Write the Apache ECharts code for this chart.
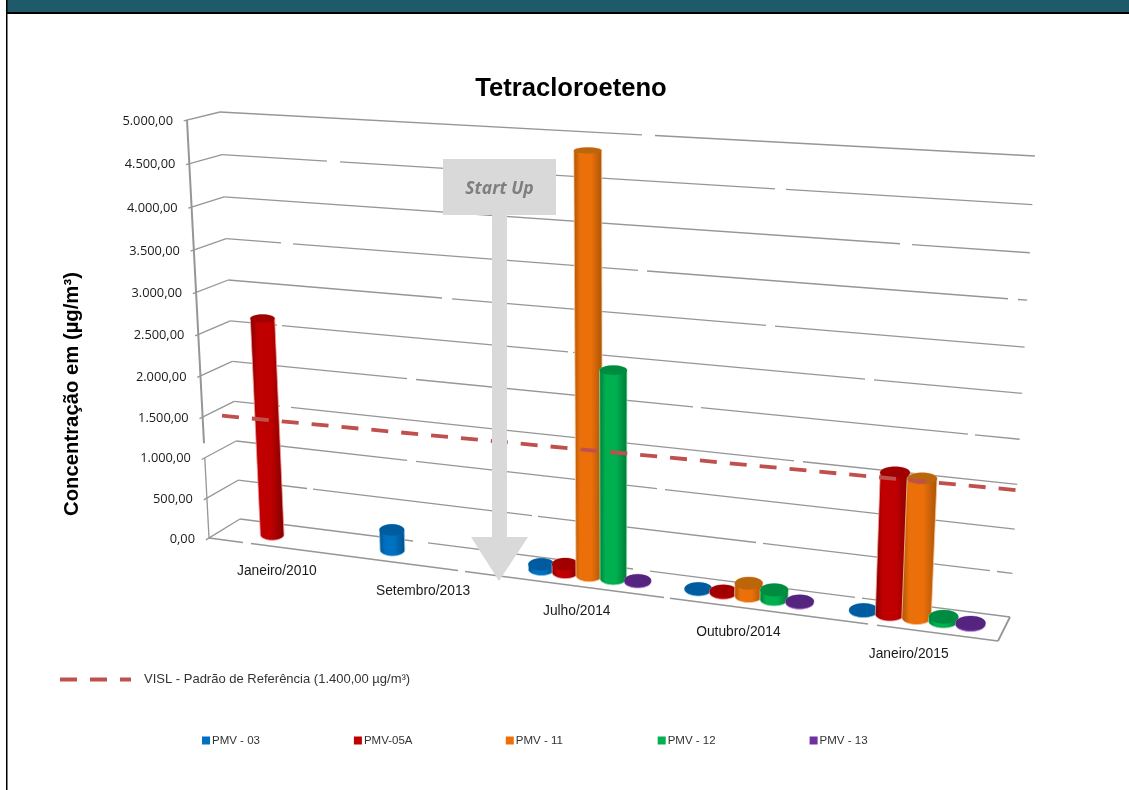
<!DOCTYPE html>
<html>
<head>
<meta charset="utf-8">
<title>Tetracloroeteno</title>
<script src="https://cdn.jsdelivr.net/npm/echarts@6/dist/echarts.min.js"></script>
<style>
  html, body { margin: 0; padding: 0; background: #fff; }
  #chart { width: 1129px; height: 790px; }
</style>
</head>
<body>
<div id="chart"></div>
<script>
// Campaign dates and monitoring wells
const campaigns = ['Janeiro/2010', 'Setembro/2013', 'Julho/2014', 'Outubro/2014', 'Janeiro/2015'];
const wellNames = ['PMV - 03', 'PMV-05A', 'PMV - 11', 'PMV - 12', 'PMV - 13'];

// Tetrachloroethene concentration per campaign (µg/m³); null = not sampled
const pmv03 = [null, 250, 60, 10, 10];
const pmv05a = [2665, null, 100, 20, 1610];
const pmv11 = [null, null, 4860, 150, 1575];
const pmv12 = [null, null, 2440, 110, 50];
const pmv13 = [null, null, 15, 15, 20];
const wellValues = [pmv03, pmv05a, pmv11, pmv12, pmv13];

const referenceName = 'VISL - Padrão de Referência (1.400,00 µg/m³)';
const referenceValue = 1400;
const valueTicks = [0, 500, 1000, 1500, 2000, 2500, 3000, 3500, 4000, 4500, 5000];
const valueTickLabels = ['0,00', '500,00', '1.000,00', '1.500,00', '2.000,00', '2.500,00',
  '3.000,00', '3.500,00', '4.000,00', '4.500,00', '5.000,00'];

const wellColors = ['#0070C0', '#C00000', '#EC700A', '#00B050', '#7030A0'];
const wellEdges = ['#00508C', '#800000', '#A85406', '#007A38', '#4C2070'];
const wellCaps = ['#005C9E', '#A00000', '#BC660C', '#008C40', '#54247E'];
const wellRims = ['#8FC0E6', '#EFA0A0', '#F8C8A0', '#90E0B0', '#C0A0DC'];

// Printed gridlines are broken in places: screen-x ranges per value level
const gridBreaks = {
  0: [[413, 428], [633, 650], [855, 862]],
  500: [[307, 313], [532, 538], [756, 763], [990, 997]],
  1000: [[407, 416], [657, 665]],
  1500: [[280, 291], [794, 803]],
  2000: [[407, 416], [693, 701], [968, 975]],
  2500: [[277, 282], [568, 573], [865, 874]],
  3000: [[442, 452], [766, 775]],
  3500: [[281, 293], [638, 647], [1008, 1018]],
  4000: [[900, 912]],
  4500: [[327, 340], [775, 786]],
  5000: [[642, 655]]
};
const floorEdgeBreaks = [[243, 251], [458, 465], [664, 670], [868, 877]];

const GRID = { left: 100, top: 120, width: 900, height: 548 };
const DEPTH_MID = 0.5;
const GRID_STROKE = '#969696';

// Unit square to quadrilateral homography (corners: 00, 10, 11, 01)
function quadMap(q) {
  const [x0, y0] = q[0], [x1, y1] = q[1], [x2, y2] = q[2], [x3, y3] = q[3];
  const dx1 = x1 - x2, dx2 = x3 - x2, sx = x0 - x1 + x2 - x3;
  const dy1 = y1 - y2, dy2 = y3 - y2, sy = y0 - y1 + y2 - y3;
  const den = dx1 * dy2 - dx2 * dy1;
  const g = (sx * dy2 - dx2 * sy) / den, h = (dx1 * sy - sx * dy1) / den;
  const a = x1 - x0 + g * x1, b = x3 - x0 + h * x3;
  const d = y1 - y0 + g * y1, e = y3 - y0 + h * y3;
  return (u, v) => {
    const w = g * u + h * v + 1;
    return [(a * u + b * v + x0) / w, (d * u + e * v + y0) / w];
  };
}

// Perspective box: front and back walls, interpolated through depth
const frontWall = quadMap([[209, 538], [998, 641], [1021, 169], [187, 120]]);
const backWall = quadMap([[240, 519], [1010, 617], [1035, 156], [220, 112]]);

function project(u, z, depth) {
  const f = frontWall(u, z), b = backWall(u, z);
  return [f[0] + (b[0] - f[0]) * depth, f[1] + (b[1] - f[1]) * depth];
}

// Axis pixel -> box fractions, so positions still come from the axes' scales
const toU = px => (px - GRID.left) / GRID.width;
const toZ = py => (GRID.top + GRID.height - py) / GRID.height;

function ellipsePoints(cx, cy, rx, ry, from, to, n) {
  const pts = [];
  for (let i = 0; i <= n; i++) {
    const t = from + (to - from) * i / n;
    pts.push([cx + rx * Math.cos(t), cy + ry * Math.sin(t)]);
  }
  return pts;
}

// Straight line p -> q with its breaks cut out, as polyline children
function brokenLine(p, q, breaks, stroke, lineWidth) {
  const at = x => {
    const t = (x - p[0]) / (q[0] - p[0]);
    return [x, p[1] + (q[1] - p[1]) * t];
  };
  const parts = [];
  let start = p;
  (breaks || []).forEach(b => {
    parts.push([start, at(b[0])]);
    start = at(b[1]);
  });
  parts.push([start, q]);
  return parts.map(points => ({
    type: 'polyline',
    shape: { points },
    style: { stroke, lineWidth, fill: null }
  }));
}

function cylinderItem(wellIndex) {
  return function (params, api) {
    const value = api.value(1);
    const c = api.coord([api.value(0), value]);
    const slot = api.size([1, 0])[0];
    const u = toU(c[0] + (wellIndex - 2) * slot * 0.155);
    const radiusU = slot * 0.085 / GRID.width;
    const base = project(u, 0, DEPTH_MID);
    const top = project(u, toZ(c[1]), DEPTH_MID);
    const halfWidth = z => {
      const l = project(u - radiusU, z, DEPTH_MID), r = project(u + radiusU, z, DEPTH_MID);
      return (r[0] - l[0]) / 2;
    };
    const flat = z => {
      const f = project(u, z, 0), b = project(u, z, 1);
      return Math.abs(f[1] - b[1]) * 0.29;
    };
    const rb = halfWidth(0), rt = halfWidth(toZ(c[1]));
    const rbY = flat(0), rtY = flat(toZ(c[1]));
    const side = ellipsePoints(base[0], base[1], rb, rbY, 0, Math.PI, 20)
      .concat(ellipsePoints(top[0], top[1], rt, rtY, Math.PI, 2 * Math.PI, 20));
    const color = wellColors[wellIndex], edge = wellEdges[wellIndex];
    return {
      type: 'group',
      silent: true,
      children: [
        {
          type: 'polygon',
          shape: { points: side },
          style: {
            stroke: wellRims[wellIndex],
            lineWidth: 0.8,
            fill: new echarts.graphic.LinearGradient(0, 0, 1, 0, [
              { offset: 0, color: edge },
              { offset: 0.22, color: color },
              { offset: 0.6, color: color },
              { offset: 1, color: edge }
            ])
          }
        },
        {
          type: 'ellipse',
          shape: { cx: top[0], cy: top[1], rx: rt, ry: rtY },
          style: { fill: wellCaps[wellIndex] }
        }
      ]
    };
  };
}

// Value gridlines: a short run across the side wall, then along the back wall
function gridItem(params, api) {
  const level = api.value(0);
  const z = toZ(api.coord([0, level])[1]);
  const a = project(0, z, -0.1), b = project(0, z, 1), d = project(1, z, 1);
  return {
    type: 'group',
    silent: true,
    children: [{
      type: 'polyline',
      shape: { points: [a, b] },
      style: { stroke: GRID_STROKE, lineWidth: 1.3, fill: null }
    }].concat(brokenLine(b, d, gridBreaks[level], GRID_STROKE, 1.3))
  };
}

// Vertical axis edge and floor outline
function boxEdgesItem(params, api) {
  const zGapTop = toZ(api.coord([0, 1180])[1]);
  const zGapBottom = toZ(api.coord([0, 1000])[1]);
  const edge = (points, lineWidth) => ({
    type: 'polyline',
    shape: { points },
    style: { stroke: GRID_STROKE, lineWidth, fill: null }
  });
  return {
    type: 'group',
    silent: true,
    children: [
      edge([project(0, 1, 0), project(0, zGapTop, 0)], 2),
      edge([project(0, zGapBottom, 0), project(0, 0, 0)], 1.3),
      edge([project(1, 0, 0), project(1, 0, 1)], 1.8)
    ].concat(brokenLine(project(0, 0, 0), project(1, 0, 0), floorEdgeBreaks, GRID_STROKE, 1.5))
  };
}

function valueLabelItem(params, api) {
  const c = api.coord([0, api.value(0)]);
  const p = project(0, toZ(c[1]), 0);
  return {
    type: 'text',
    silent: true,
    x: p[0] - 14,
    y: p[1] + 1,
    style: {
      text: valueTickLabels[params.dataIndex],
      fill: '#1A1A1A',
      font: '12.8px "Open Sans"',
      align: 'right',
      verticalAlign: 'middle'
    }
  };
}

function campaignLabelItem(params, api) {
  const c = api.coord([params.dataIndex, 0]);
  const p = project(toU(c[0]), 0, -0.1);
  return {
    type: 'text',
    silent: true,
    x: p[0] + 0.5,
    y: p[1] + 22.5,
    style: {
      text: campaigns[params.dataIndex],
      fill: '#1A1A1A',
      font: '13.8px "Liberation Sans"',
      align: 'center',
      verticalAlign: 'middle'
    }
  };
}

// Reference limit, an overlay running slightly across the box depth
function referenceItem(params, api) {
  const z = toZ(api.coord([0, referenceValue])[1]);
  return {
    type: 'polyline',
    silent: true,
    shape: { points: [project(0, z, 0.6), project(1, z, 1.15)] },
    style: { stroke: '#C0504D', lineWidth: 3.8, lineDash: [17, 13], fill: null }
  };
}

const wellSeries = wellNames.map((name, i) => ({
  name: name,
  type: 'custom',
  z: 5,
  clip: false,
  renderItem: cylinderItem(i),
  itemStyle: { color: wellColors[i] },
  encode: { x: 0, y: 1 },
  data: wellValues[i].map((v, k) => (v === null ? null : [k, v])).filter(Boolean)
}));

const legendText = { color: '#333333', fontFamily: '"Liberation Sans"', fontSize: 11.5 };
const wellLegends = wellNames.map((name, i) => ({
  data: [{ name: name, icon: 'rect' }],
  left: 202 + 151.9 * i,
  top: 734.5,
  itemWidth: 8,
  itemHeight: 8,
  padding: 0,
  textStyle: Object.assign({}, legendText, { padding: [0, 0, 0, -3] })
}));

const option = {
  animation: false,
  backgroundColor: '#ffffff',
  title: {
    text: 'Tetracloroeteno',
    left: 566,
    top: 71,
    textAlign: 'center',
    textStyle: { fontFamily: '"Liberation Sans"', fontWeight: 'bold', fontSize: 25.6, color: '#000000' }
  },
  grid: GRID,
  xAxis: { type: 'category', data: campaigns, show: false },
  yAxis: {
    type: 'value',
    min: 0,
    max: 5000,
    interval: 500,
    name: 'Concentração em (µg/m³)',
    nameLocation: 'middle',
    nameRotate: 90,
    nameGap: 18,
    nameTextStyle: { fontFamily: '"Liberation Sans"', fontWeight: 'bold', fontSize: 20.3, color: '#000000' },
    axisLine: { show: false },
    axisTick: { show: false },
    axisLabel: { show: false },
    splitLine: { show: false }
  },
  legend: wellLegends.concat([{
    data: [{ name: referenceName, icon: 'path://M0 0H17V4H0ZM30 0H47V4H30ZM60 0H71V4H60Z' }],
    left: 60,
    top: 673,
    itemWidth: 71,
    itemHeight: 4,
    padding: 0,
    textStyle: Object.assign({}, legendText, { fontSize: 13, padding: [0, 0, 4, 8] })
  }]),
  graphic: [
    { type: 'rect', silent: true, shape: { x: 6, y: 0, width: 1123, height: 12 }, style: { fill: '#1F5A6B' }, z: 100 },
    { type: 'rect', silent: true, shape: { x: 6, y: 12, width: 1123, height: 2 }, style: { fill: '#000000' }, z: 100 },
    { type: 'rect', silent: true, shape: { x: 6, y: 0, width: 1.5, height: 790 }, style: { fill: '#000000' }, z: 100 },
    { type: 'polygon', silent: true, z: 100,
      shape: { points: [[443, 159], [556, 159], [556, 215], [507, 215], [507, 537], [528, 537], [499, 581], [471, 537], [492, 537], [492, 215], [443, 215]] },
      style: { fill: '#D9D9D9' } },
    { type: 'text', silent: true, z: 101, x: 499.5, y: 189,
      style: { text: 'Start Up', fill: '#7F7F7F', font: 'italic bold 17.5px "Open Sans"', align: 'center', verticalAlign: 'middle' } }
  ],
  series: [
    { type: 'custom', z: 1, clip: false, renderItem: gridItem, data: valueTicks.map(v => [v]), encode: { y: 0 } },
    { type: 'custom', z: 1, clip: false, renderItem: boxEdgesItem, data: [[0]] },
    { type: 'custom', z: 2, clip: false, renderItem: valueLabelItem, data: valueTicks.map(v => [v]), encode: { y: 0 } },
    { type: 'custom', z: 2, clip: false, renderItem: campaignLabelItem, data: campaigns.map((c, i) => [i]) }
  ].concat(wellSeries, [{
    name: referenceName,
    type: 'custom',
    z: 8,
    clip: false,
    renderItem: referenceItem,
    itemStyle: { color: '#C0504D' },
    data: [[0]]
  }])
};

const chart = echarts.init(document.getElementById('chart'), null, { renderer: 'canvas' });
chart.setOption(option);
</script>
</body>
</html>
